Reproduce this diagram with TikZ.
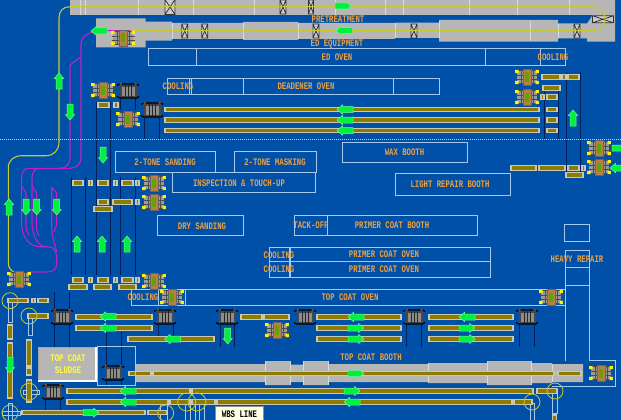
\documentclass[tikz,border=0pt]{standalone}
\usepackage{fontspec}
\newfontfamily\plantfont[FakeStretch=0.73]{Liberation Mono}
\definecolor{floorblue}{HTML}{0050A8}
\definecolor{boxline}{HTML}{A4C8F0}
\definecolor{labeltext}{HTML}{EEA040}
\definecolor{sludgetext}{HTML}{FFFF40}
\definecolor{railfill}{HTML}{8C7C00}
\definecolor{railedge}{HTML}{C8C8B4}
\definecolor{conveyor}{HTML}{B6B6B6}
\definecolor{seam}{HTML}{DADADA}
\definecolor{flowgreen}{HTML}{00F040}
\definecolor{pathyellow}{HTML}{C8C830}
\definecolor{pathpurple}{HTML}{C020C8}
\definecolor{postline}{HTML}{001E5A}
\tikzset{
  rail/.style={draw=railedge,line width=1.1pt,fill=railfill},
  tube/.style={draw=boxline,line width=.9pt},
  ring/.style={draw=pathyellow,line width=.8pt},
  post/.style={draw=postline,line width=1pt},
  yellowpath/.style={draw=pathyellow,line width=1.1pt},
  purplepath/.style={draw=pathpurple,line width=1.1pt},
  seamline/.style={draw=seam,line width=.8pt},
  booth/.style={draw=boxline,line width=.9pt,text=labeltext,inner sep=0pt,font=\plantfont\bfseries},
  plantlabel/.style={text=labeltext,inner sep=0pt,font=\plantfont\bfseries},
  lift/.pic={
    \fill[conveyor!85!black] (-10,-6) rectangle (10,6);
    \draw[black!70,line width=.6pt] (-11.5,-2) -- (11.5,-2) (-11.5,2) -- (11.5,2) (-6,-6) -- (-6,6) (6,-6) -- (6,6);
    \fill[black!70] (-9,-7) rectangle (9,-6) (-9,6) rectangle (9,7);
    \fill[draw=black!60,fill=orange!45!gray,line width=.4pt] (-4,-8) rectangle (4,8);
    \fill[fill=railfill!70!green] (-2,-4.5) rectangle (2,4.5);
    \fill[yellow] (-11.8,-7) rectangle (-8.5,-3.8) (8.5,-7) rectangle (11.8,-3.8) (-11.8,3.8) rectangle (-8.5,7) (8.5,3.8) rectangle (11.8,7);
  },
  dolly/.pic={
    \fill[black!72] (-8.5,-6.5) rectangle (8.5,6.5);
    \fill[black!45] (-6.5,-4.5) rectangle (6.5,4.5);
    \draw[black!85,line width=.7pt] (-3,-6) -- (-3,6) (0,-6) -- (0,6) (3,-6) -- (3,6);
    \draw[black,line width=1.2pt] (-11,-5.5) -- (-8.5,-7) -- (8.5,-7) -- (11,-5.5) (-11,5.5) -- (-8.5,7) -- (8.5,7) -- (11,5.5);
    \fill[orange!70!black] (-8.5,-8) rectangle (-6.5,-6.5) (6.5,-8) rectangle (8.5,-6.5);
  },
  flow/.pic={
    \draw[fill=flowgreen,draw=flowgreen!55!white,line width=.5pt] (-8,-3) -- (2.5,-3) -- (2.5,-4.6) -- (8,0) -- (2.5,4.6) -- (2.5,3) -- (-8,3) -- cycle;
  }
}
\newcommand{\hrail}[3]{\draw[rail] (#1,#3-2.2) rectangle (#2,#3+2.2);}
\newcommand{\vrail}[3]{\draw[rail] (#3-2.2,#1) rectangle (#3+2.2,#2);}
\newcommand{\gate}[4]{\draw[fill=conveyor!70!white,draw=black!80,line width=.8pt] (#1-#3/2,#2-#4/2) rectangle (#1+#3/2,#2+#4/2) (#1-#3/2,#2-#4/2) -- (#1+#3/2,#2+#4/2) (#1-#3/2,#2+#4/2) -- (#1+#3/2,#2-#4/2);}
\begin{document}
\begin{tikzpicture}[x=1pt,y=-1pt]
\useasboundingbox (0,0) rectangle (621,420);
\clip (0,0) rectangle (621,420);
\fill[floorblue] (0,0) rectangle (621,420);
% pretreatment and ed conveyors
\fill[conveyor] (70,-2) rectangle (593,15.5);
\fill[conveyor] (96,18.3) -- (145.7,18.3) -- (145.7,21.7) -- (172,21.7) -- (172,23) -- (243,23) -- (243,22) -- (298,22) -- (298,23) -- (395,23) -- (395,22.7) -- (439,22.7) -- (439,20) -- (558,20) -- (558,23.5) -- (587,23.5) -- (592,16) -- (592,-2) -- (615,-2) -- (615,41.7) -- (587,41.7) -- (587,38.5) -- (558,38.5) -- (558,41.7) -- (439,41.7) -- (439,38) -- (395,38) -- (395,39) -- (298,39) -- (298,40) -- (243,40) -- (243,39) -- (172,39) -- (172,40.7) -- (145.7,40.7) -- (145.7,47.3) -- (96,47.3) -- cycle;
\draw[seamline] (80,0) -- (80,15) (85,0) -- (85,15) (138,0) -- (138,15) (193,0) -- (193,15) (254,0) -- (254,15) (335,0) -- (335,15) (385,0) -- (385,15) (403,0) -- (403,15) (469,0) -- (469,15) (517,0) -- (517,15) (569,0) -- (569,15);
\draw[seamline] (172,23) -- (172,39) (243,23) -- (243,39) (298,23) -- (298,39) (395,23) -- (395,38) (439,21) -- (439,38) (530,21) -- (530,41) (558,24) -- (558,38);
\gate{170}{7}{10}{15}
\gate{283}{7}{6}{14}
\gate{311}{7}{5}{14}
\gate{184.7}{31}{6}{14}
\gate{204.7}{31}{6}{14}
\gate{316}{31}{6}{14}
\gate{414}{31}{6}{14}
\gate{577}{31}{6}{14}
\gate{603}{19.3}{21}{7}
% overhead paths
\draw[yellowpath] (15,273) .. controls (10,270) and (8.3,267) .. (8.3,263) -- (8.3,168) .. controls (8.3,160) and (14,155.7) .. (22,155.7) -- (46,155.7) .. controls (54,155.7) and (59,150) .. (59,142) -- (59,18) .. controls (59,11) and (63,6.7) .. (70,6.7) -- (592,6.7) .. controls (600,6.7) and (605,12) .. (605,19) .. controls (605,26) and (600,30.7) .. (590,30.7) -- (130,30.7);
\draw[purplepath] (130,30.7) -- (98,30.7) .. controls (88,33) and (81,36) .. (81,44) -- (81,157) .. controls (81,164) and (77,168.3) .. (70,168.3) -- (28,168.3) .. controls (24,168.3) and (21.5,172) .. (21.5,178) -- (21.5,222) .. controls (21.5,236) and (28,246.7) .. (40,246.7) -- (48,246.7) .. controls (54,246.7) and (56.7,252) .. (56.7,258) -- (56.7,264) .. controls (56.7,269) and (53,272) .. (47,272) -- (28,272);
\draw[purplepath] (81,56.7) -- (70,65) -- (70,158) .. controls (70,164) and (66,168.3) .. (60,168.3);
\draw[purplepath] (39,168.3) .. controls (35,168.3) and (32,172) .. (32,178) -- (32,222) .. controls (32,236) and (38,246.7) .. (46,246.7);
\draw[purplepath] (51.7,187) -- (51.7,225) .. controls (51.7,236) and (54,242) .. (56.7,252);
\draw[purplepath] (21.5,186) -- (26,193) -- (26,225) .. controls (26,230) and (27,232) .. (29,235);
\draw[purplepath] (32,186) -- (36.5,193) -- (36.5,225) .. controls (36.5,230) and (37,232) .. (39,236);
\draw[purplepath] (51.7,187) -- (56.5,193) -- (56.5,225) -- (54,232);
% posts
\draw[post] (96,102) -- (96,275) (110,102) -- (110,275);
\draw[post] (71.5,177) -- (71.5,275) (85.5,177) -- (85.5,275);
\draw[post] (120.5,177) -- (120.5,275) (135,177) -- (135,275);
\draw[post] (120,83) -- (120,110) (135,83) -- (135,110) (144.5,118) -- (144.5,139) (159,118) -- (159,139);
\draw[post] (544.5,90) -- (544.5,140) (558,90) -- (558,140) (566.5,72) -- (566.5,173) (580,72) -- (580,173);
\draw[post] (54,292) -- (54,347) (69,292) -- (69,347) (158,325) -- (158,340) (173,325) -- (173,340);
\draw[post] (106,332) -- (106,385) (121,332) -- (121,385) (45,400) -- (45,410) (60,400) -- (60,410);
\draw[post] (220,325) -- (220,347) (234,325) -- (234,347) (406.7,325) -- (406.7,347) (421.7,325) -- (421.7,347) (519,325) -- (519,347) (534,325) -- (534,347);
% rails, upper half
\hrail{98}{109}{105}
\hrail{114}{118}{105}
\hrail{165}{539}{109.5}
\hrail{165}{539}{120}
\hrail{165}{539}{130.5}
\hrail{542}{560}{77}
\hrail{562}{566}{77}
\hrail{568}{579}{77}
\hrail{543}{560}{88}
\hrail{541}{544}{97}
\hrail{547}{557}{97}
\hrail{547}{557}{109.5}
\hrail{547}{557}{120}
\hrail{547}{557}{130.5}
\hrail{511}{536}{168}
\hrail{539}{565}{168}
\hrail{568}{579}{168}
\hrail{582}{585}{168}
\hrail{566}{583}{175}
\hrail{73}{83}{183}
\hrail{89}{92}{183}
\hrail{98}{108}{183}
\hrail{114}{117}{183}
\hrail{122}{133}{183}
\hrail{136}{139}{183}
\hrail{98}{108}{202}
\hrail{113}{132}{202}
\hrail{136}{139}{202}
\hrail{94}{112}{209}
\hrail{73}{83}{280}
\hrail{89}{92}{280}
\hrail{98}{108}{280}
\hrail{114}{117}{280}
\hrail{122}{133}{280}
\hrail{136}{139}{280}
\hrail{69}{87}{287}
\hrail{94}{111}{287}
\hrail{119}{136}{287}
% top coat booth
\fill[conveyor] (135,364) rectangle (265,382) (265,361) rectangle (290,385) (290,364.5) rectangle (303,382) (303,361) rectangle (328,385) (328,364) rectangle (428,382) (428,363) rectangle (487,383) (487,361) rectangle (531,385) (531,363) rectangle (552,383) (552,364) rectangle (583,382);
\draw[seamline] (265,361) -- (265,385) (290,361) -- (290,385) (303,361) -- (303,385) (328,361) -- (328,385) (428,363) -- (428,383) (487,361) -- (487,385) (531,361) -- (531,385) (552,364) -- (552,382);
% tubes and rings
\draw[tube] (8,300) rectangle (12,322) (28,316) rectangle (32,335) (23,390) rectangle (39,394) (27,381) rectangle (31,402);
\draw[tube] (2,411) rectangle (20,415) (8,403) rectangle (12,420);
\draw[tube] (160,403) rectangle (167,422) (185,403) rectangle (190,422) (195,403) rectangle (199,422) (199,403) rectangle (204,422);
\draw[tube] (530,403) rectangle (534,422) (552,393) rectangle (557,413);
\vrail{325}{339}{10}
\vrail{343}{398}{10}
\vrail{340}{366}{29}
\vrail{368}{375}{29}
\vrail{380}{402}{29}
\vrail{415}{422}{554.5}
\hrail{8}{28}{300.7}
\hrail{32}{35}{300.7}
\hrail{38}{48}{300.7}
\hrail{28}{48}{316}
\hrail{76}{152}{317}
\hrail{241}{262}{317}
\hrail{264}{289}{317}
\hrail{317}{401}{317}
\hrail{429}{513}{317}
\hrail{76}{152}{328}
\hrail{317}{401}{328}
\hrail{429}{513}{328}
\hrail{128}{214}{339}
\hrail{317}{401}{339}
\hrail{429}{513}{339}
\hrail{129}{151}{373.5}
\hrail{153}{554}{373.5}
\hrail{558}{581}{373.5}
\hrail{67}{190}{391}
\hrail{192}{533}{391}
\hrail{537}{557}{391}
\hrail{67}{168}{402}
\hrail{170}{190}{402}
\hrail{192}{215}{402}
\hrail{217}{512}{402}
\hrail{514}{532}{402}
\hrail{22}{145}{412.7}
\hrail{148}{167}{412.7}
\draw[ring] (10,300.7) circle (8) (29,316) circle (8) (29,391.7) circle (8.5) (10,413) circle (8) (165.7,413) circle (8) (186.7,402) circle (9) (197,402) circle (9) (532,402) circle (8) (555,391) circle (8);
% booths and ovens
\draw[booth] (148,48.7) rectangle (565,65) (196,48.7) -- (196,65) (485,48.7) -- (485,65) (540,48.7) -- (540,65);
\draw[booth] (167,78) rectangle (439,94.7) (189,78) -- (189,94.7) (191,78) -- (191,94.7) (243,78) -- (243,94.7) (393,78) -- (393,94.7);
\node[booth,minimum width=125,minimum height=20] (waxbooth) at (404.5,152) {WAX BOOTH};
\node[booth,minimum width=100,minimum height=20.6] (sanding) at (165,162) {2-TONE SANDING};
\node[booth,minimum width=82,minimum height=20.6] (masking) at (275,162) {2-TONE MASKING};
\draw[booth] (172,172.4) rectangle (315,192.6);
\node[plantlabel] (touchup) at (239,183) {INSPECTION \& TOUCH-UP};
\draw[booth] (395,173) rectangle (510,195);
\node[plantlabel] (lightrepair) at (450,184) {LIGHT REPAIR BOOTH};
\draw[booth] (157,215) rectangle (243,235.7);
\node[plantlabel] (drysanding) at (202,226) {DRY SANDING};
\draw[booth] (294,215) rectangle (477,235.7) (327,215) -- (327,235.7);
\draw[booth] (269,247) rectangle (490,277) (269,261.7) -- (490,261.7) (289,247) -- (289,277) (290.5,247) -- (290.5,277);
\draw[booth] (131,289) rectangle (565,305.7) (158,289) -- (158,305.7) (185,289) -- (185,305.7);
\draw[booth] (564.5,224) rectangle (589,241.7);
\draw[booth] (565,250) rectangle (589,267) (565,267) -- (565,361) (589,267) -- (589,360) -- (615,360) -- (615,386) -- (552,386) (565,285) -- (589,285);
\draw[booth] (97,346.5) rectangle (135,385);
% sludge box and wbs tag
\draw[fill=conveyor,draw=black!35,line width=1pt] (38,347.5) -- (38,380) -- (95,380) -- (95,347.5) -- cycle;
\draw[white,line width=1.4pt] (38,381) -- (96,381) -- (96,347);
\node[font=\plantfont\bfseries,text=sludgetext,inner sep=0pt,align=center] (sludge) at (68,364) {TOP COAT\\SLUDGE};
\draw[fill=white!90!yellow,draw=black!45,line width=1pt] (215,406.5) rectangle (263,422);
\node[font=\plantfont\bfseries,text=black,inner sep=0pt] (wbsline) at (239.5,414) {WBS LINE};
% carriers
\pic at (123,38) {lift};
\pic at (103,90) {lift};
\pic at (128,91) {dolly};
\pic at (128,119) {lift};
\pic at (152,110) {dolly};
\pic at (527,77) {lift};
\pic at (527,97) {lift};
\pic at (599,148) {lift};
\pic at (599,167) {lift};
\pic at (154,183) {lift};
\pic at (154,202) {lift};
\pic at (154,281) {lift};
\pic at (19,279) {lift};
\pic at (172,297) {lift};
\pic at (551,297) {lift};
\pic at (277,330) {lift};
\pic at (601,373) {lift};
\pic at (62,317) {dolly};
\pic at (165,317) {dolly};
\pic at (227,317) {dolly};
\pic at (305,317) {dolly};
\pic at (414,317) {dolly};
\pic at (527,317) {dolly};
\pic at (113,373) {dolly};
\pic at (53,392) {dolly};
% flow arrows
\pic at (343,6) {flow};
\pic[rotate=180] at (99,31) {flow};
\pic[rotate=180] at (344,30.7) {flow};
\pic[rotate=180] at (345,109.5) {flow};
\pic[rotate=180] at (345,120) {flow};
\pic[rotate=180] at (345,130.5) {flow};
\pic[rotate=90] at (59,81) {flow};
\pic[rotate=-90] at (70,112) {flow};
\pic[rotate=90] at (573,118) {flow};
\pic[rotate=-90] at (103,155) {flow};
\pic[rotate=90] at (9,207) {flow};
\pic[rotate=-90] at (26,207) {flow};
\pic[rotate=-90] at (36.7,207) {flow};
\pic[rotate=-90] at (56.7,207) {flow};
\pic[rotate=90] at (77,244) {flow};
\pic[rotate=90] at (102,244) {flow};
\pic[rotate=90] at (127,244) {flow};
\pic at (620,148) {flow};
\pic[rotate=180] at (618,168) {flow};
\pic[rotate=180] at (108,316.5) {flow};
\pic[rotate=180] at (108,328) {flow};
\pic[rotate=180] at (172.5,339) {flow};
\pic[rotate=-90] at (227.7,336) {flow};
\pic[rotate=180] at (356,317) {flow};
\pic at (356,328) {flow};
\pic at (356,339) {flow};
\pic[rotate=180] at (467,317) {flow};
\pic at (467,328) {flow};
\pic at (467,339) {flow};
\pic[rotate=-90] at (10,365) {flow};
\pic at (356,373.5) {flow};
\pic at (352,391) {flow};
\pic[rotate=180] at (352,402) {flow};
\pic[rotate=180] at (128,391) {flow};
\pic[rotate=180] at (128,402) {flow};
\pic at (91,412.7) {flow};
% labels
\node[plantlabel] (pretreat) at (338,19) {PRETREATMENT};
\node[plantlabel] (edequip) at (337,44) {ED EQUIPMENT};
\node[plantlabel] (edoven) at (337,57) {ED OVEN};
\node[plantlabel] (edcool) at (553,57) {COOLING};
\node[plantlabel] (deadcool) at (178,86) {COOLING};
\node[plantlabel] (deadener) at (306,86) {DEADENER OVEN};
\node[plantlabel] (tackoff) at (311,225) {TACK-OFF};
\node[plantlabel] (primerbooth) at (392,225) {PRIMER COAT BOOTH};
\node[plantlabel] (primercoola) at (279,255) {COOLING};
\node[plantlabel] (primercoolb) at (279,269) {COOLING};
\node[plantlabel] (primerovena) at (384,254.5) {PRIMER COAT OVEN};
\node[plantlabel] (primerovenb) at (384,269) {PRIMER COAT OVEN};
\node[plantlabel] (heavyrepair) at (577,259) {HEAVY REPAIR};
\node[plantlabel] (topcool) at (143,297) {COOLING};
\node[plantlabel] (topoven) at (350,297) {TOP COAT OVEN};
\node[plantlabel] (topbooth) at (371,357) {TOP COAT BOOTH};
\draw[dash pattern=on 1pt off 1pt,draw=pathyellow!60!white,line width=.7pt] (0,139.5) -- (621,139.5);
\end{tikzpicture}
\end{document}
